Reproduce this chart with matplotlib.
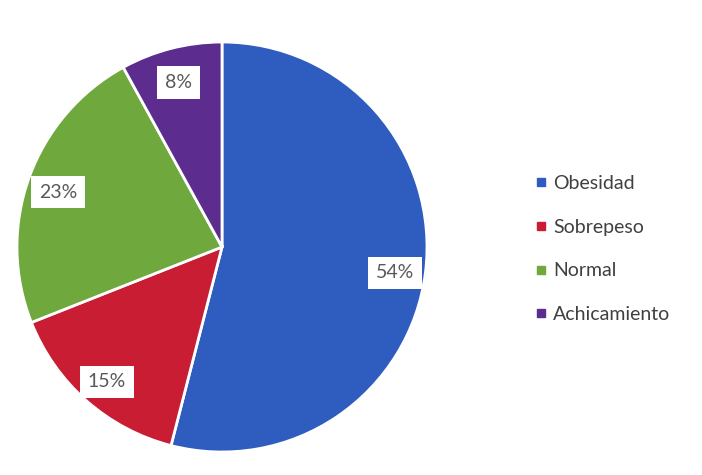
import matplotlib

matplotlib.use("Agg")
import matplotlib.pyplot as plt
from matplotlib.lines import Line2D

categories = ["Obesidad", "Sobrepeso", "Normal", "Achicamiento"]
shares = [54, 15, 23, 8]
colors = ["#2E5CBF", "#C81D33", "#6FA83C", "#5C2D8E"]

plt.rcParams["font.family"] = ["Lato", "DejaVu Sans"]

fig = plt.figure(figsize=(7.02, 4.75), dpi=100)
W, H = 702, 475
cx, cy, r = 222, 247, 205
ax = fig.add_axes([(cx - r) / W, (H - cy - r) / H, 2 * r / W, 2 * r / H])

wedges, texts, autotexts = ax.pie(
    shares,
    colors=colors,
    startangle=90,
    counterclock=False,
    autopct="%d%%",
    pctdistance=0.85,
    wedgeprops={"edgecolor": "white", "linewidth": 2},
)
for t in autotexts:
    t.set_color("#595959")
    t.set_fontsize(14)
    t.set_bbox({"facecolor": "white", "edgecolor": "none", "boxstyle": "square,pad=0.4"})
    x, y = t.get_position()
    t.set_position((x, y - 0.02))
ax.set_xlim(-1.0, 1.0)
ax.set_ylim(-1.0, 1.0)
ax.set_aspect("equal")

handles = [
    Line2D([], [], marker="s", linestyle="none", markersize=6,
           markerfacecolor=c, markeredgecolor=c)
    for c in colors
]
fig.legend(
    handles,
    categories,
    loc="center left",
    bbox_to_anchor=(518 / W, 1 - 249 / H),
    frameon=False,
    fontsize=14,
    labelcolor="#404040",
    handlelength=0.6,
    handletextpad=0.3,
    labelspacing=1.37,
)

fig.savefig("out.png", dpi=100, facecolor="white")
